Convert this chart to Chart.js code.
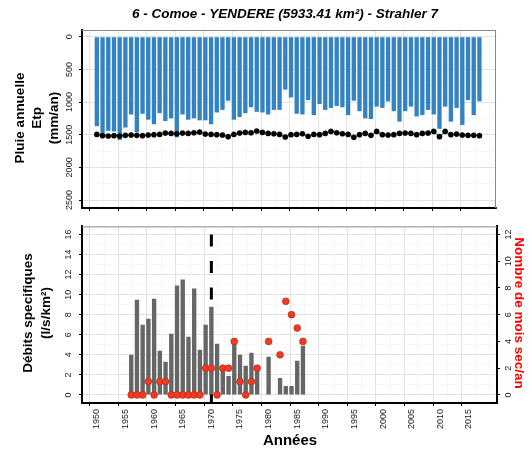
<!DOCTYPE html>
<html lang="fr">
<head>
    <meta charset="UTF-8">
    <title>6 - Comoe - YENDERE</title>
    <script src="https://cdn.jsdelivr.net/npm/chart.js"></script>
    <style>
        body { margin: 0; background: #fff; width: 532px; height: 455px; overflow: hidden; position: relative; }
        #pluieChart { position: absolute; left: 0; top: 0; }
        #debitChart { position: absolute; left: 0; top: 216px; }
    </style>
</head>
<body>
    <canvas id="pluieChart" width="532" height="216"></canvas>
    <canvas id="debitChart" width="532" height="239"></canvas>

    <script>
        // Données
        const annees = [1950, 1951, 1952, 1953, 1954, 1955, 1956, 1957, 1958, 1959,
            1960, 1961, 1962, 1963, 1964, 1965, 1966, 1967, 1968, 1969,
            1970, 1971, 1972, 1973, 1974, 1975, 1976, 1977, 1978, 1979,
            1980, 1981, 1982, 1983, 1984, 1985, 1986, 1987, 1988, 1989,
            1990, 1991, 1992, 1993, 1994, 1995, 1996, 1997, 1998, 1999,
            2000, 2001, 2002, 2003, 2004, 2005, 2006, 2007, 2008, 2009,
            2010, 2011, 2012, 2013, 2014, 2015, 2016, 2017];
        const pluie = [1370, 1480, 1440, 1450, 1580, 1390, 1190, 1460, 1180, 1270,
            1340, 1170, 1290, 1250, 1540, 1190, 1270, 1250, 1280, 1280,
            1340, 1160, 1120, 980, 1270, 1230, 1170, 1080, 1150, 1160,
            1190, 1120, 1120, 810, 930, 1180, 1190, 970, 1200, 1030,
            1120, 1090, 1060, 1080, 1200, 980, 1140, 1250, 1260, 1070,
            1090, 990, 1140, 1300, 1140, 1070, 1220, 1200, 1120, 1190,
            1410, 1070, 1300, 1090, 1350, 970, 1200, 990];
        const etp = [1495, 1515, 1520, 1515, 1520, 1510, 1505, 1510, 1515, 1505,
            1500, 1495, 1475, 1480, 1485, 1475, 1480, 1470, 1460, 1490,
            1495, 1500, 1505, 1530, 1495, 1475, 1465, 1470, 1445, 1465,
            1480, 1485, 1495, 1535, 1500, 1495, 1485, 1525, 1495, 1500,
            1480, 1450, 1470, 1485, 1495, 1540, 1500, 1480, 1510, 1450,
            1500, 1505, 1500, 1480, 1475, 1480, 1500, 1480, 1475, 1450,
            1530, 1450, 1500, 1490, 1505, 1510, 1510, 1515];

        const anneesDebit = [1956, 1957, 1958, 1959, 1960, 1961, 1962, 1963, 1964, 1965,
            1966, 1967, 1968, 1969, 1970, 1971, 1972, 1973, 1974, 1975,
            1976, 1977, 1978, 1979, 1980, 1981, 1982, 1983, 1984, 1985, 1986];
        const debits = [4.0, 9.5, 7.0, 7.6, 9.6, 4.4, 3.3, 6.1, 10.9, 11.5,
            5.8, 10.6, 4.5, 7.0, 8.8, 5.1, 2.7, 1.9, 5.2, 4.0,
            2.9, 4.2, 2.6, null, 3.8, null, 1.7, 0.9, 0.9, 3.4, 4.9];
        const moisSec = [0, 0, 0, 1, 0, 1, 1, 0, 0, 0,
            0, 0, 0, 2, 2, 0, 2, 2, 4, 1,
            0, 1, 2, null, 4, null, 3, 7, 6, 5, 4];
        const anneeRupture = 1970;

        // Graduations
        const xMajor = [1950, 1955, 1960, 1965, 1970, 1975, 1980, 1985, 1990, 1995, 2000, 2005, 2010, 2015];
        const xMinor = [1947.5, 1952.5, 1957.5, 1962.5, 1967.5, 1972.5, 1977.5, 1982.5, 1987.5, 1992.5, 1997.5, 2002.5, 2007.5, 2012.5, 2017.5];
        const pluieMajor = [0, 500, 1000, 1500, 2000, 2500];
        const pluieMinor = [250, 750, 1250, 1750, 2250];
        const debitMajor = [0, 2, 4, 6, 8, 10, 12, 14, 16];
        const debitMinor = [1, 3, 5, 7, 9, 11, 13, 15];
        const moisMajor = [0, 2, 4, 6, 8, 10, 12];

        const fontName = '"Liberation Sans", Arial, sans-serif';
        const tickFont = { family: fontName, size: 9 };

        function gridScale(major, minor) {
            const all = major.concat(minor).sort((a, b) => a - b);
            const isMajor = c => c.tick && major.includes(c.tick.value);
            return {
                afterBuildTicks: axis => { axis.ticks = all.map(v => ({ value: v })); },
                grid: {
                    color: c => isMajor(c) ? '#e2e2e2' : '#f1f1f1',
                    lineWidth: c => isMajor(c) ? 1 : 0.6,
                    tickColor: c => isMajor(c) ? '#000' : 'rgba(0,0,0,0)',
                    tickLength: 3
                },
                border: { color: '#000', width: 2 }
            };
        }

        function labelIf(major) {
            return v => major.includes(v) ? String(v) : '';
        }

        function rotText(ctx, text, x, y, angle, font, color) {
            ctx.save();
            ctx.translate(x, y);
            ctx.rotate(angle);
            ctx.font = font;
            ctx.fillStyle = color;
            ctx.textAlign = 'center';
            ctx.textBaseline = 'middle';
            ctx.fillText(text, 0, 0);
            ctx.restore();
        }

        // cadre gris haut / droite
        const cadreGris = {
            id: 'cadreGris',
            beforeDatasetsDraw(chart, args, opts) {
                const { ctx, chartArea: a } = chart;
                ctx.save();
                ctx.strokeStyle = '#8a8a8a';
                ctx.lineWidth = 1;
                ctx.beginPath();
                ctx.moveTo(a.left, a.top + 0.5);
                ctx.lineTo(a.right, a.top + 0.5);
                if (opts.right) {
                    ctx.moveTo(a.right - 0.5, a.top);
                    ctx.lineTo(a.right - 0.5, a.bottom);
                }
                ctx.stroke();
                ctx.restore();
            }
        };

        const titresPluie = {
            id: 'titresPluie',
            afterDraw(chart) {
                const ctx = chart.ctx;
                ctx.save();
                ctx.font = 'italic bold 13.5px ' + fontName;
                ctx.fillStyle = '#000';
                ctx.textAlign = 'center';
                ctx.textBaseline = 'middle';
                ctx.fillText('6 - Comoe - YENDERE (5933.41 km²) - Strahler 7', 285, 14);
                ctx.restore();
                const f = 'bold 13.5px ' + fontName;
                rotText(ctx, 'Pluie annuelle', 20, 118, -Math.PI / 2, f, '#000');
                rotText(ctx, 'Etp', 37.5, 118, -Math.PI / 2, f, '#000');
                rotText(ctx, '(mm/an)', 54.5, 118, -Math.PI / 2, f, '#000');
            }
        };

        const titresDebit = {
            id: 'titresDebit',
            afterDraw(chart) {
                const ctx = chart.ctx;
                const f = 'bold 13.5px ' + fontName;
                rotText(ctx, 'Débits specifiques', 28, 97, -Math.PI / 2, f, '#000');
                rotText(ctx, '(l/s/km²)', 46, 97, -Math.PI / 2, f, '#000');
                rotText(ctx, 'Nombre de mois sec/an', 519, 97, Math.PI / 2, f, '#ff0000');
                ctx.save();
                ctx.font = 'bold 15px ' + fontName;
                ctx.fillStyle = '#000';
                ctx.textAlign = 'center';
                ctx.textBaseline = 'middle';
                ctx.fillText('Années', 290, 225);
                ctx.restore();
            }
        };

        // Graphique du haut : pluie et Etp
        const xPluie = gridScale(xMajor, xMinor);
        const yPluie = gridScale(pluieMajor, pluieMinor);
        new Chart(document.getElementById('pluieChart'), {
            type: 'bar',
            data: {
                datasets: [
                    {
                        type: 'line',
                        data: annees.map((a, i) => ({ x: a, y: etp[i] })),
                        borderColor: '#2fb344',
                        borderWidth: 1.3,
                        pointRadius: 2.6,
                        pointBackgroundColor: '#000',
                        pointBorderColor: '#000',
                        pointBorderWidth: 0.5,
                        order: 0
                    },
                    {
                        data: annees.map((a, i) => ({ x: a, y: pluie[i] })),
                        backgroundColor: '#3383c3',
                        barPercentage: 0.76,
                        categoryPercentage: 1.0,
                        order: 1
                    }
                ]
            },
            options: {
                responsive: false,
                animation: false,
                devicePixelRatio: 1,
                layout: { padding: { top: 30, right: 36, bottom: 8, left: 0 } },
                plugins: { legend: { display: false }, tooltip: { enabled: false }, cadreGris: { right: true } },
                scales: {
                    x: Object.assign(xPluie, {
                        type: 'linear', min: 1947.4, max: 2019.9, offset: false,
                        ticks: { display: false },
                        afterFit: axis => { axis.height = 0; }
                    }),
                    y: Object.assign(yPluie, {
                        type: 'linear', reverse: true, min: -103, max: 2622,
                        ticks: {
                            font: tickFont, color: '#1a1a1a', minRotation: 90, maxRotation: 90,
                            crossAlign: 'center', padding: -1, autoSkip: false,
                            callback: labelIf(pluieMajor)
                        },
                        afterFit: axis => { axis.width = 82; }
                    })
                }
            },
            plugins: [cadreGris, titresPluie]
        });

        // Graphique du bas : débits spécifiques et mois secs
        const xDebit = gridScale(xMajor, xMinor);
        const yDebit = gridScale(debitMajor, debitMinor);
        new Chart(document.getElementById('debitChart'), {
            type: 'bar',
            data: {
                datasets: [
                    {
                        type: 'line',
                        data: [{ x: anneeRupture, y: 16 }, { x: anneeRupture, y: -0.8 }],
                        borderColor: '#000',
                        borderWidth: 3,
                        borderDash: [12, 14.5],
                        pointRadius: 0,
                        order: 3
                    },
                    {
                        data: anneesDebit.map((a, i) => ({ x: a, y: debits[i] })),
                        backgroundColor: '#666666',
                        barPercentage: 0.76,
                        categoryPercentage: 1.0,
                        order: 2
                    },
                    {
                        type: 'line',
                        yAxisID: 'y2',
                        data: anneesDebit.map((a, i) => ({ x: a, y: moisSec[i] })),
                        showLine: false,
                        pointRadius: 3.4,
                        pointBackgroundColor: '#ee3b22',
                        pointBorderColor: '#b8281a',
                        pointBorderWidth: 0.7,
                        order: 0
                    }
                ]
            },
            options: {
                responsive: false,
                animation: false,
                devicePixelRatio: 1,
                layout: { padding: { top: 8, right: 0, bottom: 0, left: 0 } },
                plugins: { legend: { display: false }, tooltip: { enabled: false }, cadreGris: { right: false } },
                scales: {
                    x: Object.assign(xDebit, {
                        type: 'linear', min: 1947.4, max: 2019.9, offset: false,
                        ticks: {
                            font: tickFont, color: '#1a1a1a', minRotation: 90, maxRotation: 90,
                            padding: 3, autoSkip: false,
                            callback: labelIf(xMajor)
                        },
                        afterFit: axis => { axis.height = 52; }
                    }),
                    y: Object.assign(yDebit, {
                        type: 'linear', min: -0.8, max: 16.8,
                        ticks: {
                            font: tickFont, color: '#1a1a1a', minRotation: 90, maxRotation: 90,
                            crossAlign: 'center', padding: 5, autoSkip: false,
                            callback: labelIf(debitMajor)
                        },
                        afterFit: axis => { axis.width = 82; }
                    }),
                    y2: {
                        type: 'linear', position: 'right', min: -0.6, max: 12.6,
                        afterBuildTicks: axis => { axis.ticks = moisMajor.map(v => ({ value: v })); },
                        grid: { drawOnChartArea: false, tickLength: 3, tickColor: '#000' },
                        border: { color: '#000', width: 2 },
                        ticks: {
                            font: tickFont, color: '#1a1a1a', minRotation: 90, maxRotation: 90,
                            crossAlign: 'center', padding: 3.5, autoSkip: false
                        },
                        afterFit: axis => { axis.width = 35; }
                    }
                }
            },
            plugins: [cadreGris, titresDebit]
        });
    </script>
</body>
</html>
